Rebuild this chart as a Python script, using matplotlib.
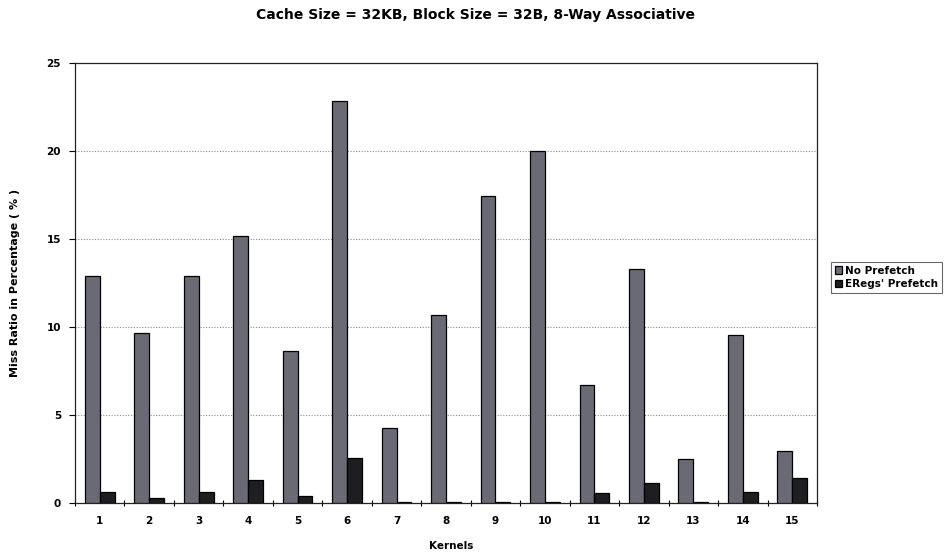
import numpy as np
import matplotlib.pyplot as plt

kernels = [str(i) for i in range(1, 16)]
no_prefetch = [12.9, 9.65, 12.9, 15.15, 8.65, 22.85, 4.25, 10.68, 17.45, 20.0, 6.7, 13.28, 2.5, 9.53, 2.95]
eregs_prefetch = [0.6, 0.3, 0.6, 1.3, 0.38, 2.55, 0.08, 0.03, 0.08, 0.08, 0.55, 1.15, 0.05, 0.6, 1.42]

plt.rcParams['font.family'] = ['DejaVu Sans']
plt.rcParams['font.weight'] = 'bold'

fig = plt.figure(figsize=(9.49, 5.53), dpi=100)
ax = fig.add_axes([75 / 949, 1 - 503 / 553, (817 - 75) / 949, (503 - 63) / 553])

x = np.arange(1, len(kernels) + 1)
w = 0.3
ax.bar(x - w / 2, no_prefetch, w, color='#6a6a74', edgecolor='black', linewidth=0.9,
       label='No Prefetch', zorder=3)
ax.bar(x + w / 2, eregs_prefetch, w, color='#1e1e22', edgecolor='black', linewidth=0.9,
       label="ERegs' Prefetch", zorder=3)

ax.set_xlim(0.5, 15.5)
ax.set_ylim(0, 25)
ax.set_yticks([0, 5, 10, 15, 20, 25])
ax.set_xticks(x)
ax.set_xticklabels(kernels)
# boundary tick marks between kernels, like the spreadsheet axis
ax.set_xticks(np.arange(0.5, 16, 1), minor=True)
ax.tick_params(axis='x', which='major', length=0, pad=9, labelsize=7.5)
ax.tick_params(axis='x', which='minor', length=4, direction='inout', width=0.8)
ax.tick_params(axis='y', length=4, direction='out', width=0.8, labelsize=7.5, pad=6)

for yv in [5, 10, 15, 20]:
    ax.axhline(yv, color='#888888', linestyle=(0, (1, 1.5)), linewidth=0.8, zorder=1)

for s in ax.spines.values():
    s.set_linewidth(0.9)
    s.set_color('#222222')

fig.text(451 / 949, 1 - 546 / 553, 'Kernels', ha='center', va='center',
         fontsize=7.5, fontweight='bold')
ax.set_ylabel('Miss Ratio in Percentage ( % )', fontsize=8, fontweight='bold', labelpad=19)
fig.text(476 / 949, 1 - 15 / 553, 'Cache Size = 32KB, Block Size = 32B, 8-Way Associative',
         ha='center', va='center', fontsize=10, fontweight='bold')

leg = fig.legend(loc='upper left', bbox_to_anchor=(831 / 949, 1 - 262 / 553),
                 fontsize=7.5, frameon=True, fancybox=False, edgecolor='#444444',
                 handlelength=0.7, handleheight=0.7, handletextpad=0.3,
                 borderpad=0.35, labelspacing=0.35, borderaxespad=0)
leg.get_frame().set_linewidth(0.8)

fig.savefig('out.png', dpi=100)
